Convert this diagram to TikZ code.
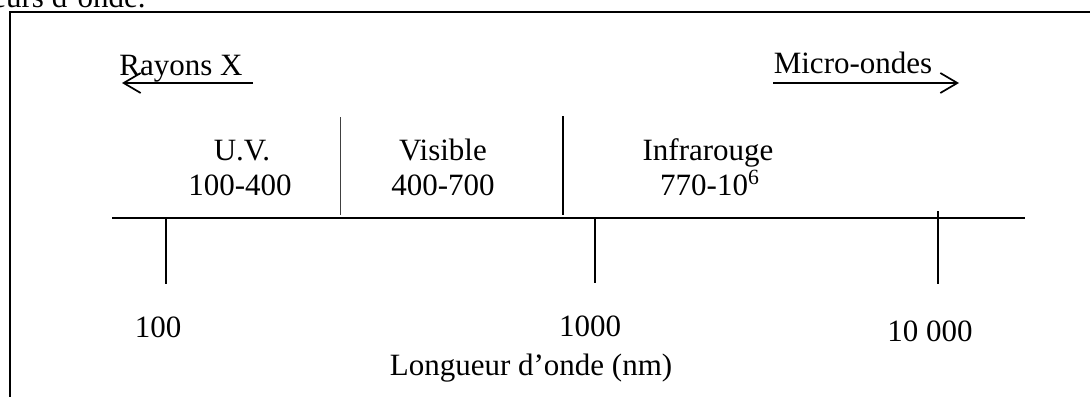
\documentclass[tikz,border=0pt]{standalone}
\usepackage{fontspec}
\setmainfont{Liberation Serif}
\usetikzlibrary{arrows.meta}
\begin{document}
\begin{tikzpicture}[x=0.5pt,y=-0.5pt,
  lbl/.style={anchor=base,inner sep=0pt,font=\fontsize{15.5}{18}\selectfont},
  frame/.style={line width=1pt},
  axis/.style={line width=1pt},
  tickline/.style={line width=0.85pt},
  band/.style={line width=0.9pt},
  thinband/.style={line width=0.5pt,black!75},
  spanarrow/.style={line width=0.85pt,-{Straight Barb[length=8.5pt,width=10pt]}}]
\useasboundingbox (0,0) rectangle (1090,396);
\clip (0,0) rectangle (1090,396);

% caption line above the frame
\node[lbl,anchor=base east] (cap) at (146,7) {eurs d’onde.};

% frame
\coordinate (fTR) at (1092,12);
\coordinate (fTL) at (10,12);
\coordinate (fBL) at (10,398);
\draw[frame] (fTR) -- (fTL) -- (fBL);

% neighbouring ranges
\node[lbl] (xray) at (181,75) {Rayons X};
\coordinate (xrayA) at (253,83);
\coordinate (xrayB) at (122,83);
\draw[spanarrow] (xrayA) -- (xrayB);

\node[lbl] (micro) at (853,73) {Micro-ondes};
\coordinate (microA) at (773,83);
\coordinate (microB) at (959,83);
\draw[spanarrow] (microA) -- (microB);

% bands
\node[lbl] (uv) at (242,160) {U.V.};
\node[lbl] (uvr) at (240,195) {100-400};
\node[lbl] (vis) at (443,160) {Visible};
\node[lbl] (visr) at (443,195) {400-700};
\node[lbl] (ir) at (708,160) {Infrarouge};
\node[lbl] (irr) at (710,195) {770-10\textsuperscript{6}};

\coordinate (d1T) at (340,117);
\coordinate (d1B) at (340,215);
\draw[thinband] (d1T) -- (d1B);
\coordinate (d2T) at (563,116);
\coordinate (d2B) at (563,215);
\draw[band] (d2T) -- (d2B);

% wavelength axis
\coordinate (axL) at (112,218);
\coordinate (axR) at (1025,218);
\draw[axis] (axL) -- (axR);

\coordinate (t1T) at (166,218);
\coordinate (t1B) at (166,284);
\draw[tickline] (t1T) -- (t1B);
\coordinate (t2T) at (595,218);
\coordinate (t2B) at (595,283);
\draw[tickline] (t2T) -- (t2B);
\coordinate (t3T) at (938,211);
\coordinate (t3B) at (938,284);
\draw[tickline] (t3T) -- (t3B);

\node[lbl] (l1) at (158,337) {100};
\node[lbl] (l2) at (590,336) {1000};
\node[lbl] (l3) at (930,341) {10 000};
\node[lbl] (unit) at (531,375) {Longueur d’onde (nm)};
\end{tikzpicture}
\end{document}
